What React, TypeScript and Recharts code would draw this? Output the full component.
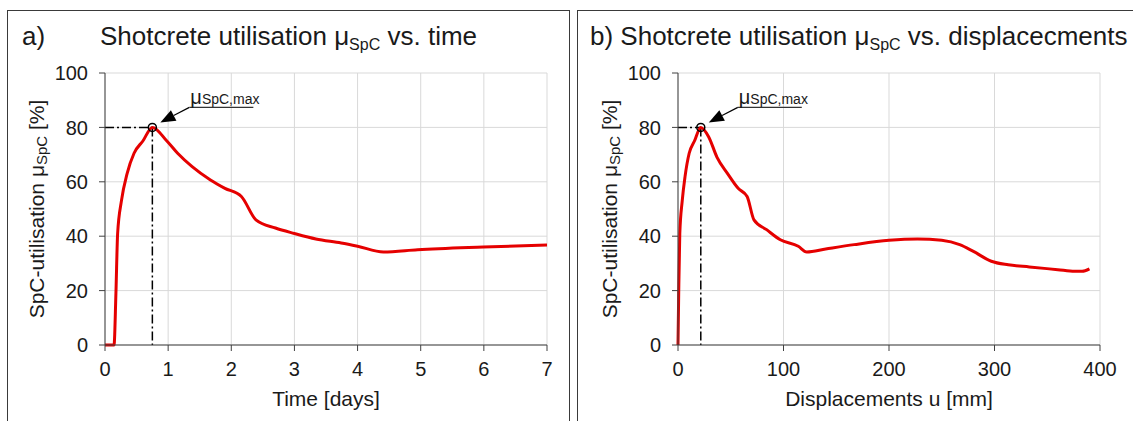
import React from "react";
import {
  LineChart,
  Line,
  XAxis,
  YAxis,
  CartesianGrid,
  ReferenceLine,
  ReferenceDot,
  Label,
} from "recharts";

// a) utilisation vs time
const timeDays = [0, 0.143, 0.173, 0.2, 0.26, 0.35, 0.46, 0.6, 0.75, 0.98, 1.15, 1.38, 1.67, 1.9, 2.16, 2.39, 2.7, 3.0, 3.34, 3.74, 4.0, 4.41, 4.95, 5.99, 7.0];
const utilTime = [0, 0, 19, 41, 53, 63, 70.5, 75, 80, 75, 70.5, 65.6, 60.7, 57.6, 54.6, 46, 43, 41, 39, 37.5, 36.3, 34.2, 35, 36, 36.8];

// b) utilisation vs displacements
const dispMm = [0, 0.7, 1.7, 4, 6.7, 10.6, 15.6, 21.6, 29, 37, 47, 57, 65.5, 72, 84, 97, 114, 122, 140, 167, 200, 227, 250, 267, 280, 297, 313, 333, 360, 376, 383, 390];
const utilDisp = [0, 20, 41, 53, 62, 70.5, 75, 80, 76.6, 69, 63, 57.6, 54.6, 46, 42.4, 38.7, 36.3, 34.2, 35.3, 36.9, 38.5, 39, 38.5, 36.9, 34.4, 30.8, 29.5, 28.7, 27.7, 27.1, 27.1, 28];

const timeTicks = [0, 1, 2, 3, 4, 5, 6, 7];
const dispTicks = [0, 100, 200, 300, 400];
const utilTicks = [0, 20, 40, 60, 80, 100];

const peakTime = 0.75;
const peakDisp = 21.6;
const peakUtil = 80;

const timeData = timeDays.map((t, i) => ({ x: t, y: utilTime[i] }));
const dispData = dispMm.map((d, i) => ({ x: d, y: utilDisp[i] }));

const FONT = '"Liberation Sans", Arial, sans-serif';
const RED = "#e50000";
const AXIS = "#404040";
const TXT = "#1a1a1a";

const YTitle = (props: any) => {
  const { viewBox } = props;
  const x = viewBox.x + 13;
  const y = viewBox.y + viewBox.height / 2;
  return (
    <text
      x={x}
      y={y}
      transform={`rotate(-90 ${x} ${y})`}
      textAnchor="middle"
      dominantBaseline="middle"
      fontSize={21}
      fill={TXT}
      fontFamily={FONT}
    >
      SpC-utilisation μ
      <tspan fontSize={15} dy={5}>SpC</tspan>
      <tspan dy={-5}> [%]</tspan>
    </text>
  );
};

const PeakMark = (props: any) => {
  const { cx, cy } = props;
  const tipX = cx + 8;
  const tipY = cy - 5;
  const tailX = cx + 37;
  const tailY = cy - 20;
  const ang = Math.atan2(tailY - tipY, tailX - tipX);
  const len = 15;
  const half = 6;
  const bx = tipX + Math.cos(ang) * len;
  const by = tipY + Math.sin(ang) * len;
  const px = -Math.sin(ang) * half;
  const py = Math.cos(ang) * half;
  return (
    <g>
      <circle cx={cx} cy={cy} r={4} fill="none" stroke="#000" strokeWidth={1.5} />
      <line x1={bx} y1={by} x2={tailX} y2={tailY} stroke="#000" strokeWidth={1.2} />
      <polygon points={`${tipX},${tipY} ${bx + px},${by + py} ${bx - px},${by - py}`} fill="#000" />
      <line x1={tailX} y1={tailY} x2={tailX + 64} y2={tailY} stroke="#333" strokeWidth={1.2} />
      <text x={tailX + 1} y={tailY - 3} fontFamily={FONT} fill={TXT}>
        <tspan fontSize={20}>μ</tspan>
        <tspan fontSize={14}>SpC,max</tspan>
      </text>
    </g>
  );
};

type PanelProps = {
  data: { x: number; y: number }[];
  xTicks: number[];
  xMax: number;
  xTitle: string;
  peakX: number;
  width: number;
  margin: { top: number; right: number; bottom: number; left: number };
};

const Panel = ({ data, xTicks, xMax, xTitle, peakX, width, margin }: PanelProps) => (
  <LineChart width={width} height={411} data={data} margin={margin}>
    <CartesianGrid stroke="#d9d9d9" strokeWidth={1} vertical horizontal />
    <XAxis
      dataKey="x"
      type="number"
      domain={[0, xMax]}
      ticks={xTicks}
      interval={0}
      height={60}
      stroke={AXIS}
      tick={{ fontSize: 20, fill: TXT, fontFamily: FONT }}
      tickSize={6}
      tickMargin={11}
    >
      <Label value={xTitle} position="insideBottom" offset={-1} style={{ fontSize: 21, fill: TXT, fontFamily: FONT }} />
    </XAxis>
    <YAxis
      type="number"
      domain={[0, 100]}
      ticks={utilTicks}
      interval={0}
      width={80}
      stroke={AXIS}
      tick={{ fontSize: 20, fill: TXT, fontFamily: FONT }}
      tickSize={6}
      tickMargin={11}
    >
      <Label content={<YTitle />} />
    </YAxis>
    <ReferenceLine
      segment={[{ x: 0, y: peakUtil }, { x: peakX, y: peakUtil }]}
      stroke="#000"
      strokeWidth={1.5}
      strokeDasharray="9 3 2 3"
    />
    <ReferenceLine
      segment={[{ x: peakX, y: peakUtil }, { x: peakX, y: 0 }]}
      stroke="#000"
      strokeWidth={1.5}
      strokeDasharray="9 3 2 3"
    />
    <Line
      dataKey="y"
      type="monotone"
      stroke={RED}
      strokeWidth={3}
      dot={false}
      isAnimationActive={false}
    />
    <ReferenceDot x={peakX} y={peakUtil} r={4} shape={<PeakMark />} />
  </LineChart>
);

const frame: React.CSSProperties = {
  position: "absolute",
  top: 10,
  height: 420,
  border: "1px solid #3a3a3a",
  boxSizing: "border-box",
  background: "#fff",
};

const titleStyle: React.CSSProperties = {
  position: "absolute",
  top: 21,
  fontSize: 26,
  fontFamily: FONT,
  color: TXT,
  whiteSpace: "nowrap",
  lineHeight: "30px",
};

const subStyle: React.CSSProperties = { fontSize: 16, verticalAlign: "-5px" };

export default function App() {
  return (
    <div style={{ position: "relative", width: 1133, height: 421, background: "#fff", overflow: "hidden" }}>
      <style>{`body{margin:0;}`}</style>
      <div style={{ ...frame, left: 7, width: 563 }} />
      <div style={{ ...frame, left: 577, width: 560 }} />

      <div style={{ position: "absolute", left: 8, top: 10 }}>
        <Panel
          data={timeData}
          xTicks={timeTicks}
          xMax={7}
          xTitle="Time [days]"
          peakX={peakTime}
          width={560}
          margin={{ top: 63, right: 21, bottom: 16, left: 17 }}
        />
      </div>
      <div style={{ position: "absolute", left: 577, top: 10 }}>
        <Panel
          data={dispData}
          xTicks={dispTicks}
          xMax={400}
          xTitle="Displacements u [mm]"
          peakX={peakDisp}
          width={556}
          margin={{ top: 63, right: 33, bottom: 16, left: 21 }}
        />
      </div>

      <div style={{ ...titleStyle, left: 22 }}>a)</div>
      <div style={{ ...titleStyle, left: 100 }}>
        Shotcrete utilisation μ<span style={subStyle}>SpC</span> vs. time
      </div>
      <div style={{ ...titleStyle, left: 590 }}>
        b) Shotcrete utilisation μ<span style={subStyle}>SpC</span> vs. displacecments
      </div>
    </div>
  );
}
